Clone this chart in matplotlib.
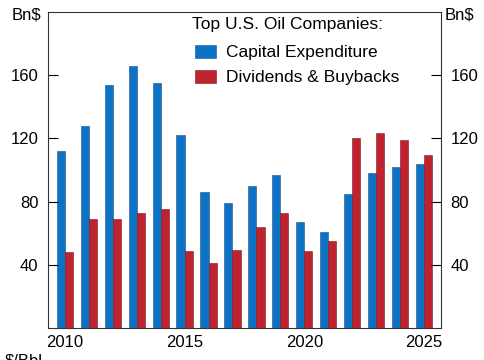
import numpy as np
import matplotlib.pyplot as plt

plt.rcParams['font.family'] = ['Liberation Sans', 'DejaVu Sans']

# Daten
years = np.arange(2010, 2026)
capex = [112, 128, 154, 166, 155, 122, 86, 79, 90, 97, 67, 61, 85, 98, 102, 104]
payouts = [48, 69, 69, 72.5, 75, 49, 41, 49.5, 64, 72.5, 49, 55, 120, 123.5, 119, 109.5]
y_ticks = [40, 80, 120, 160]
x_ticks = [2010, 2015, 2020, 2025]

blue = '#0b72c6'
red = '#c0222e'

fig = plt.figure(figsize=(4.85, 3.6), dpi=100)
ax = fig.add_axes([0.099, 0.089, 0.81, 0.878])

w = 0.34
ax.bar(years - w / 2, capex, width=w, color=blue, edgecolor='#1a4f80',
       linewidth=0.4, label='Capital Expenditure')
ax.bar(years + w / 2, payouts, width=w, color=red, edgecolor='#7a1a22',
       linewidth=0.4, label='Dividends & Buybacks')

ax.set_xlim(2009.29, 2025.71)
ax.set_ylim(0, 200)
ax.set_yticks(y_ticks)
ax.set_xticks(x_ticks)
ax.tick_params(axis='y', direction='in', length=7, width=0.8, labelsize=12,
               left=True, right=True, labelleft=True, labelright=True, pad=7)
ax.tick_params(axis='x', length=0, labelsize=12, pad=5)
for s in ax.spines.values():
    s.set_linewidth(0.8)
    s.set_color('#333333')

# Legende ohne Titel, Titel separat
ax.legend(loc='upper left', bbox_to_anchor=(195 / 485, 1 - 45 / 360),
          bbox_transform=fig.transFigure, frameon=False, fontsize=12.5,
          handlelength=1.2, handleheight=0.75, labelspacing=0.55,
          handletextpad=0.6, borderpad=0, borderaxespad=0)
fig.text(192 / 485, 1 - 24 / 360, 'Top U.S. Oil Companies:', ha='left',
         va='center', fontsize=12.5)

fig.text(0.055, 0.958, 'Bn$', ha='center', va='center', fontsize=12)
fig.text(0.948, 0.958, 'Bn$', ha='center', va='center', fontsize=12)
fig.text(0.01, 0.0167, '$/Bbl', ha='left', va='top', fontsize=12)

fig.savefig('out.png', dpi=100)
